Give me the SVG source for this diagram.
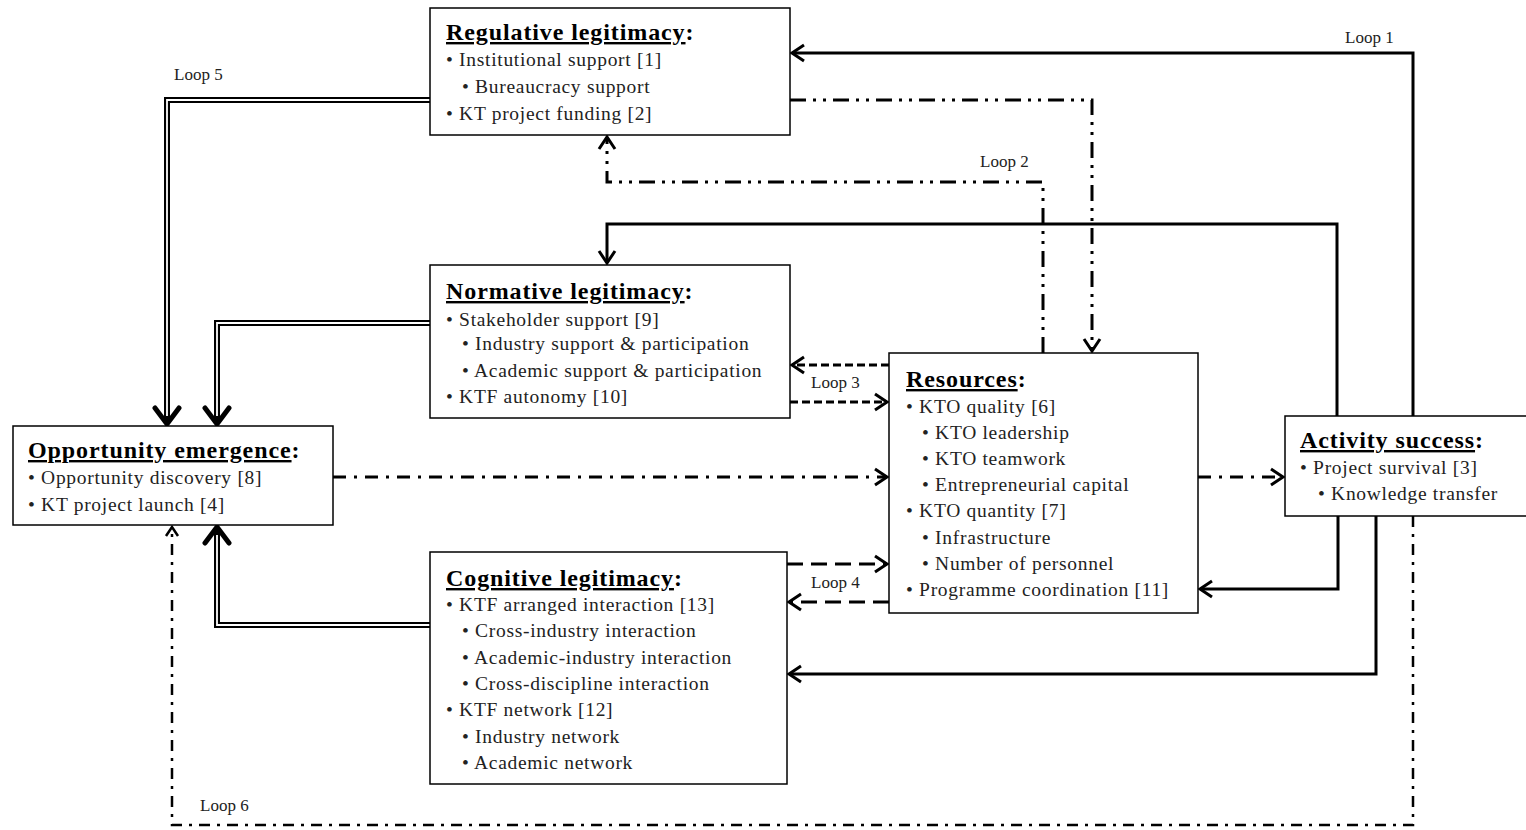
<svg xmlns="http://www.w3.org/2000/svg" width="1526" height="830" viewBox="0 0 1526 830">
<style>
.box{fill:#fff;stroke:#000;stroke-width:1.5}
.t{font-family:"Liberation Serif","DejaVu Serif",serif;font-size:24px;font-weight:bold;fill:#000;letter-spacing:0.9px}
.u{text-decoration:underline}
.b{font-family:"Liberation Serif","DejaVu Serif",serif;font-size:19.5px;fill:#222;letter-spacing:0.7px}
.lbl{font-family:"Liberation Serif","DejaVu Serif",serif;font-size:17px;fill:#222}
.c{fill:none;stroke:#000;stroke-width:3}
.dd{stroke-dasharray:16 7 3 7 3 7}
.dt{stroke-dasharray:13 8 3 8}
.ds{stroke-dasharray:8 4}
.dl{stroke-dasharray:16 8}
.d6{stroke-dasharray:11 7 3 7;stroke-width:2.5}
.dbo{fill:none;stroke:#000;stroke-width:6}
.dbi{fill:none;stroke:#fff;stroke-width:1.8}
</style>
<defs>
<marker id="a" markerUnits="userSpaceOnUse" markerWidth="18" markerHeight="20" refX="15" refY="10" orient="auto"><path d="M3,2 L15,10 L3,18" fill="none" stroke="#000" stroke-width="3"/></marker>
<marker id="s" markerUnits="userSpaceOnUse" markerWidth="14" markerHeight="16" refX="12" refY="8" orient="auto"><path d="M3,2 L12,8 L3,14" fill="none" stroke="#000" stroke-width="2.5"/></marker>
<marker id="bA" markerUnits="userSpaceOnUse" markerWidth="24" markerHeight="30" refX="20" refY="15" orient="auto"><path d="M4,3 L20,15 L4,27" fill="none" stroke="#000" stroke-width="5" stroke-linecap="round" stroke-linejoin="round"/></marker>
</defs>

<g id="connectors">
<path class="c" d="M1413,416 V53 H792" marker-end="url(#a)"/>
<path class="c dd" d="M790,100 H1092 V351" marker-end="url(#a)"/>
<path class="c dd" d="M1043,353 V182 H607 V137" marker-end="url(#a)"/>
<path class="c" d="M1337,416 V224 H607 V263" marker-end="url(#a)"/>
<path class="c ds" d="M889,365 H792" marker-end="url(#a)"/>
<path class="c ds" d="M790,402 H887" marker-end="url(#a)"/>
<path class="c dt" d="M333,477 H887" marker-end="url(#a)"/>
<path class="c dt" d="M1198,477 H1283" marker-end="url(#a)"/>
<path class="c dl" d="M787,564 H887" marker-end="url(#a)"/>
<path class="c dl" d="M889,602 H789" marker-end="url(#a)"/>
<path class="c" d="M1338,516 V589 H1200" marker-end="url(#a)"/>
<path class="c" d="M1376,516 V674 H789" marker-end="url(#a)"/>
<path class="c d6" d="M1413,516 V825 H172 V527" marker-end="url(#s)"/>
<path class="dbo" d="M430,100 H167 V424" marker-end="url(#bA)"/>
<path class="dbi" d="M430,100 H167 V416"/>
<path class="dbo" d="M430,323 H217 V424" marker-end="url(#bA)"/>
<path class="dbi" d="M430,323 H217 V416"/>
<path class="dbo" d="M430,625 H217 V527" marker-end="url(#bA)"/>
<path class="dbi" d="M430,625 H217 V535"/>
<text class="lbl" x="1345" y="43">Loop 1</text>
<text class="lbl" x="980" y="167">Loop 2</text>
<text class="lbl" x="811" y="388">Loop 3</text>
<text class="lbl" x="811" y="588">Loop 4</text>
<text class="lbl" x="174" y="80">Loop 5</text>
<text class="lbl" x="200" y="811">Loop 6</text>
</g>

<g id="regulative">
<rect class="box" x="430" y="8" width="360" height="127"/>
<text class="t" x="446" y="40"><tspan class="u">Regulative legitimacy</tspan>:</text>
<text class="b" x="446" y="66">• Institutional support [1]</text>
<text class="b" x="462" y="93">• Bureaucracy  support</text>
<text class="b" x="446" y="120">• KT project  funding [2]</text>
</g>

<g id="normative">
<rect class="box" x="430" y="265" width="360" height="153"/>
<text class="t" x="446" y="299"><tspan class="u">Normative legitimacy</tspan>:</text>
<text class="b" x="446" y="326">• Stakeholder support [9]</text>
<text class="b" x="462" y="350">• Industry support  &amp; participation</text>
<text class="b" x="462" y="377">• Academic support &amp; participation</text>
<text class="b" x="446" y="403">• KTF autonomy [10]</text>
</g>

<g id="resources">
<rect class="box" x="889" y="353" width="309" height="260"/>
<text class="t" x="906" y="387"><tspan class="u">Resources</tspan>:</text>
<text class="b" x="906" y="413">• KTO quality [6]</text>
<text class="b" x="922" y="439">• KTO leadership</text>
<text class="b" x="922" y="465">• KTO teamwork</text>
<text class="b" x="922" y="491">• Entrepreneurial capital</text>
<text class="b" x="906" y="517">• KTO quantity [7]</text>
<text class="b" x="922" y="544">• Infrastructure</text>
<text class="b" x="922" y="570">• Number of personnel</text>
<text class="b" x="906" y="596">• Programme coordination [11]</text>
</g>

<g id="activity">
<rect class="box" x="1285" y="416" width="250" height="100"/>
<text class="t" x="1300" y="448"><tspan class="u">Activity success</tspan>:</text>
<text class="b" x="1300" y="474">• Project survival  [3]</text>
<text class="b" x="1318" y="500">• Knowledge transfer</text>
</g>

<g id="opportunity">
<rect class="box" x="13" y="426" width="320" height="99"/>
<text class="t" x="28" y="458"><tspan class="u">Opportunity emergence</tspan>:</text>
<text class="b" x="28" y="484">• Opportunity discovery [8]</text>
<text class="b" x="28" y="511">• KT project  launch [4]</text>
</g>

<g id="cognitive">
<rect class="box" x="430" y="552" width="357" height="232"/>
<text class="t" x="446" y="586"><tspan class="u">Cognitive legitimacy</tspan>:</text>
<text class="b" x="446" y="611">• KTF arranged  interaction [13]</text>
<text class="b" x="462" y="637">• Cross-industry interaction</text>
<text class="b" x="462" y="664">• Academic-industry interaction</text>
<text class="b" x="462" y="690">• Cross-discipline interaction</text>
<text class="b" x="446" y="716">• KTF network [12]</text>
<text class="b" x="462" y="743">• Industry network</text>
<text class="b" x="462" y="769">• Academic network</text>
</g>
</svg>
